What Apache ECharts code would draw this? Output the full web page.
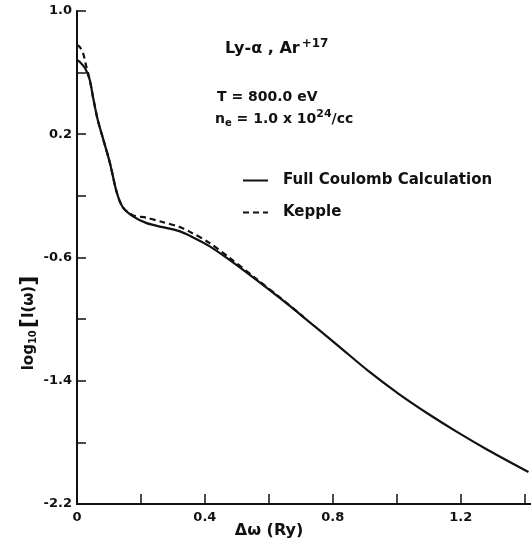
<!DOCTYPE html>
<html>
<head>
<meta charset="utf-8">
<script src="https://cdn.jsdelivr.net/npm/echarts@6/dist/echarts.min.js"></script>
<style>
html, body { margin: 0; padding: 0; background: #fff; }
#chart { width: 531px; height: 544px; }
</style>
</head>
<body>
<div id="chart"></div>
<script>
// Full Coulomb calculation (solid)
var coulombX = [0, 0.009, 0.025, 0.040, 0.050, 0.065, 0.081, 0.103, 0.124, 0.143, 0.174, 0.218, 0.268, 0.320, 0.352, 0.414, 0.476, 0.560, 0.641, 0.709, 0.818, 0.911, 1.005, 1.098, 1.191, 1.285, 1.412];
var coulombY = [0.682, 0.669, 0.630, 0.552, 0.442, 0.292, 0.175, 0.013, -0.175, -0.273, -0.331, -0.377, -0.403, -0.429, -0.458, -0.526, -0.614, -0.744, -0.874, -0.988, -1.175, -1.336, -1.483, -1.614, -1.735, -1.849, -1.992];
// Kepple (dashed)
var keppleX = [0, 0.009, 0.019, 0.028, 0.040, 0.050, 0.065, 0.081, 0.103, 0.124, 0.143, 0.174, 0.218, 0.268, 0.320, 0.352, 0.414, 0.476, 0.560, 0.641, 0.709];
var keppleY = [0.779, 0.766, 0.727, 0.649, 0.552, 0.442, 0.292, 0.175, 0.013, -0.175, -0.273, -0.325, -0.342, -0.370, -0.401, -0.432, -0.505, -0.600, -0.737, -0.870, -0.987];

var xTicks = [0, 0.2, 0.4, 0.6, 0.8, 1.0, 1.2, 1.4];
var xLabels = [0, 0.4, 0.8, 1.2];
var yTicks = [-2.2, -1.8, -1.4, -1.0, -0.6, -0.2, 0.2, 0.6, 1.0];
var yLabels = [-2.2, -1.4, -0.6, 0.2, 1.0];

function pairs(xs, ys) {
  return xs.map(function (x, i) { return [x, ys[i]]; });
}

var ink = '#111';
var font = 'DejaVu Sans';

var chart = echarts.init(document.getElementById('chart'));

var option = {
  backgroundColor: '#fff',
  animation: false,
  grid: { left: 77, right: 0, top: 11, bottom: 40 },
  xAxis: {
    type: 'value',
    min: 0,
    max: 1.42,
    splitLine: { show: false },
    axisLine: { onZero: false, lineStyle: { color: ink, width: 2 } },
    axisTick: { inside: true, length: 10, customValues: xTicks, lineStyle: { color: ink, width: 1.5 } },
    axisLabel: {
      customValues: xLabels,
      margin: 7,
      color: ink,
      fontFamily: font,
      fontWeight: 'bold',
      fontSize: 13,
      formatter: function (v) { return v === 0 ? '0' : v.toFixed(1); }
    }
  },
  yAxis: {
    type: 'value',
    min: -2.2,
    max: 1.0,
    splitLine: { show: false },
    axisLine: { onZero: false, lineStyle: { color: ink, width: 2 } },
    axisTick: { inside: true, length: 9, customValues: yTicks, lineStyle: { color: ink, width: 1.5 } },
    axisLabel: {
      customValues: yLabels,
      margin: 5,
      color: ink,
      fontFamily: font,
      fontWeight: 'bold',
      fontSize: 13,
      formatter: function (v) { return v.toFixed(1); }
    }
  },
  legend: {
    orient: 'vertical',
    left: 242,
    top: 173,
    padding: 0,
    itemWidth: 25,
    itemHeight: 16,
    itemGap: 17,
    itemStyle: { opacity: 0 },
    textStyle: { color: ink, fontFamily: font, fontWeight: 'bold', fontSize: 15, padding: [0, 0, 0, 10] },
    data: ['Full Coulomb Calculation', 'Kepple']
  },
  graphic: [
    {
      type: 'text', left: 225, top: 38,
      style: {
        text: 'Ly-α , Ar{sup|+17}',
        fill: ink, font: 'bold 16px "DejaVu Sans"',
        rich: { sup: { fontSize: 12, fontWeight: 'bold', fontFamily: font, verticalAlign: 'top', padding: [0, 0, 10, 2] } }
      }
    },
    {
      type: 'text', left: 217, top: 90,
      style: { text: 'T = 800.0 eV', fill: ink, font: 'bold 14px "DejaVu Sans"' }
    },
    {
      type: 'text', left: 215, top: 109,
      style: {
        text: 'n{sub|e} = 1.0 x 10{sup|24}/cc',
        fill: ink, font: 'bold 14px "DejaVu Sans"',
        rich: {
          sub: { fontSize: 10, fontWeight: 'bold', fontFamily: font, padding: [8, 0, 0, 0] },
          sup: { fontSize: 11, fontWeight: 'bold', fontFamily: font, padding: [0, 0, 10, 0] }
        }
      }
    },
    {
      type: 'text', x: 29, y: 323, rotation: Math.PI / 2,
      style: {
        text: 'log{sub|10}{br|[}I(ω){br|]}',
        fill: ink, font: 'bold 15px "DejaVu Sans"',
        align: 'center', verticalAlign: 'middle',
        rich: {
          sub: { fontSize: 10, fontWeight: 'bold', fontFamily: font, padding: [9, 2, 0, 0] },
          br: { fontSize: 22, fontWeight: 'bold', fontFamily: font }
        }
      }
    },
    {
      type: 'text', x: 269, y: 531,
      style: {
        text: 'Δω (Ry)', fill: ink, font: 'bold 16px "DejaVu Sans"',
        align: 'center', verticalAlign: 'middle'
      }
    }
  ],
  series: [
    {
      name: 'Full Coulomb Calculation',
      type: 'line',
      smooth: 0.3,
      symbol: 'none',
      lineStyle: { color: ink, width: 2.2 },
      itemStyle: { color: ink },
      data: pairs(coulombX, coulombY)
    },
    {
      name: 'Kepple',
      type: 'line',
      smooth: 0.3,
      symbol: 'none',
      lineStyle: { color: ink, width: 2.2, type: [6, 4] },
      itemStyle: { color: ink },
      data: pairs(keppleX, keppleY)
    }
  ]
};

chart.setOption(option);
</script>
</body>
</html>
